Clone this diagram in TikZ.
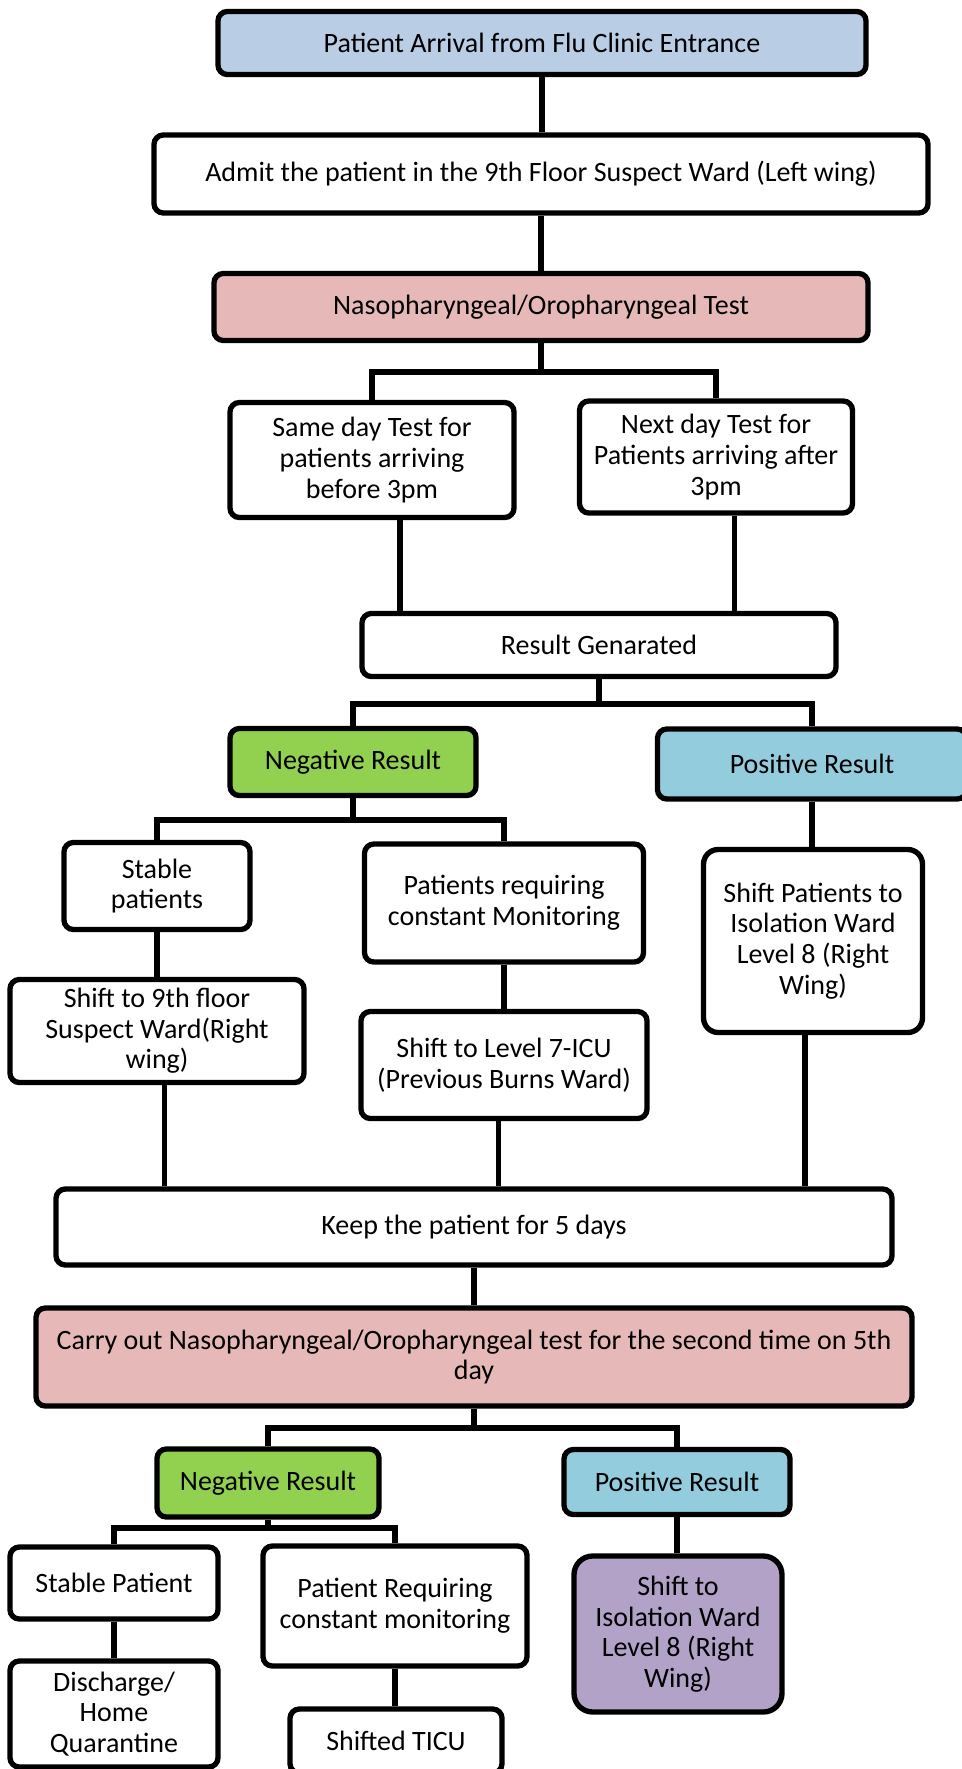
\documentclass[tikz,border=0pt]{standalone}
\usepackage{fontspec}
\setmainfont{Carlito}

\definecolor{arrivalblue}{HTML}{B9CDE5}
\definecolor{testpink}{HTML}{E6B9B8}
\definecolor{neggreen}{HTML}{92D050}
\definecolor{posblue}{HTML}{93CDDD}
\definecolor{isopurple}{HTML}{B3A2C7}

\begin{document}
\begin{tikzpicture}[x=0.75pt, y=-0.75pt,
    box/.style={draw, line width=4pt, rounded corners=7pt, fill=white, align=center,
        inner sep=2pt, font=\fontsize{21}{23}\selectfont},
    sz/.style 2 args={minimum width=#1*0.75pt, minimum height=#2*0.75pt},
    conn/.style={line width=4.2pt}]
    \useasboundingbox (0,0) rectangle (962,1769);

    % Define nodes for the first test
    \node[box, fill=arrivalblue, sz={648}{63}] (arrival) at (542,43) {Patient Arrival from Flu Clinic Entrance};
    \node[box, sz={774}{78}] (admit) at (541,174) {Admit the patient in the 9th Floor Suspect Ward (Left wing)};
    \node[box, fill=testpink, sz={654}{67}] (test) at (541,307) {Nasopharyngeal/Oropharyngeal Test};

    \node[box, sz={284}{115}] (sameday) at (372,460) {Same day Test for\\patients arriving\\before 3pm};
    \node[box, sz={273}{112}] (nextday) at (716,457) {Next day Test for\\Patients arriving after\\3pm};
    \node[box, sz={474}{63}] (result) at (599,645) {Result Genarated};

    \node[box, fill=neggreen, sz={246}{67}] (neg) at (353,762) {Negative Result};
    \node[box, fill=posblue, sz={309}{70}] (pos) at (812,764) {Positive Result};

    \node[box, sz={186}{87}] (stable) at (157,886) {Stable\\patients};
    \node[box, sz={279}{118}] (monitor) at (504,903) {Patients requiring\\constant Monitoring};
    \node[box, rounded corners=11pt, sz={219}{183}] (isolate) at (813,941) {Shift Patients to\\Isolation Ward\\Level 8 (Right\\Wing)};
    \node[box, sz={294}{103}] (rightwing) at (157,1031) {Shift to 9th floor\\Suspect Ward(Right\\wing)};
    \node[box, sz={286}{107}] (icu) at (504,1065) {Shift to Level 7-ICU\\(Previous Burns Ward)};

    % Define nodes for the second test
    \node[box, sz={836}{76}] (keep) at (474,1227) {Keep the patient for 5 days};
    \node[box, fill=testpink, sz={876}{98}] (retest) at (474,1357) {Carry out Nasopharyngeal/Oropharyngeal test for the second time on 5th\\day};

    \node[box, fill=neggreen, sz={222}{68}] (negtwo) at (268,1483) {Negative Result};
    \node[box, fill=posblue, sz={226}{65}] (postwo) at (677,1482) {Positive Result};

    \node[box, sz={208}{72}] (stabletwo) at (114,1583) {Stable Patient};
    \node[box, sz={264}{120}] (monitortwo) at (395,1606) {Patient Requiring\\constant monitoring};
    \node[box, fill=isopurple, rounded corners=14pt, sz={208}{156}] (isolatetwo) at (678,1634) {Shift to\\Isolation Ward\\Level 8 (Right\\Wing)};
    \node[box, sz={208}{106}] (discharge) at (114,1714) {Discharge/\\Home\\Quarantine};
    \node[box, sz={212}{64}] (ticu) at (396,1741) {Shifted TICU};

    % Fork points
    \coordinate (testfork) at (541,372);
    \coordinate (resfork) at (599,704);
    \coordinate (negfork) at (353,820);
    \coordinate (retestfork) at (474,1428);
    \coordinate (negtwofork) at (268,1528);

    % Draw the connections
    \draw[conn] (arrival.south) -- (arrival.south |- admit.north);
    \draw[conn] (admit.south) -- (admit.south |- test.north);
    \draw[conn] (test.south) -- (testfork);
    \draw[conn] (sameday.north) |- (testfork) -| (nextday.north);
    \draw[conn] ([xshift=21pt]sameday.south) -- ([xshift=21pt]sameday.south |- result.north);
    \draw[conn] ([xshift=14pt]nextday.south) -- ([xshift=14pt]nextday.south |- result.north);
    \draw[conn] (result.south) -- (resfork);
    \draw[conn] (neg.north) |- (resfork) -| (pos.north);
    \draw[conn] (neg.south) -- (negfork);
    \draw[conn] (stable.north) |- (negfork) -| (monitor.north);
    \draw[conn] (pos.south) -- (pos.south |- isolate.north);
    \draw[conn] (stable.south) -- (stable.south |- rightwing.north);
    \draw[conn] (monitor.south) -- (monitor.south |- icu.north);

    \draw[conn] ([xshift=5.5pt]rightwing.south) -- ([xshift=5.5pt]rightwing.south |- keep.north);
    \draw[conn] ([xshift=-4pt]icu.south) -- ([xshift=-4pt]icu.south |- keep.north);
    \draw[conn] ([xshift=-6pt]isolate.south) -- ([xshift=-6pt]isolate.south |- keep.north);

    \draw[conn] (keep.south) -- (keep.south |- retest.north);
    \draw[conn] (retest.south) -- (retestfork);
    \draw[conn] (negtwo.north) |- (retestfork) -| (postwo.north);
    \draw[conn] (negtwo.south) -- (negtwofork);
    \draw[conn] (stabletwo.north) |- (negtwofork) -| (monitortwo.north);
    \draw[conn] (postwo.south) -- (postwo.south |- isolatetwo.north);
    \draw[conn] (stabletwo.south) -- (stabletwo.south |- discharge.north);
    \draw[conn] (monitortwo.south) -- (monitortwo.south |- ticu.north);
\end{tikzpicture}
\end{document}
